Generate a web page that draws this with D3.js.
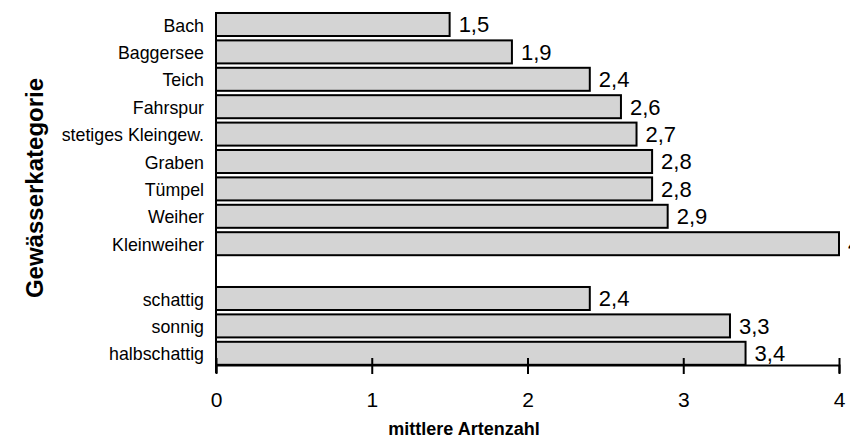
<!DOCTYPE html>
<html>
<head>
<meta charset="utf-8">
<script src="https://cdn.jsdelivr.net/npm/d3@7"></script>
<style>
    body { margin: 0; background: #fff; }
    text { font-family: "Liberation Sans", Arial, sans-serif; fill: #000; }
</style>
</head>
<body>
<script>
// Gewässertypen (oberer Block)
var waterTypes = ["Bach", "Baggersee", "Teich", "Fahrspur", "stetiges Kleingew.", "Graben", "Tümpel", "Weiher", "Kleinweiher"];
var waterValues = [1.5, 1.9, 2.4, 2.6, 2.7, 2.8, 2.8, 2.9, 4];

// Besonnung (unterer Block)
var shadeTypes = ["schattig", "sonnig", "halbschattig"];
var shadeValues = [2.4, 3.3, 3.4];

var xTicks = [0, 1, 2, 3, 4];

// build rows, with an empty spacer row between the two blocks
var rows = [];
waterTypes.forEach(function (c, i) { rows.push({ cat: c, value: waterValues[i] }); });
rows.push({ cat: "__gap", value: null });
shadeTypes.forEach(function (c, i) { rows.push({ cat: c, value: shadeValues[i] }); });

var width = 850, height = 440;
var axisY = 365;

var svg = d3.select("body").append("svg")
    .attr("width", width)
    .attr("height", height);

var x = d3.scaleLinear()
    .domain([0, 4])
    .range([216, 839]);

var y = d3.scaleBand()
    .domain(rows.map(function (d) { return d.cat; }))
    .range([10.8, 367])
    .paddingInner(0.16)
    .paddingOuter(0.08);

var bars = rows.filter(function (d) { return d.value !== null; });

// Bars
svg.append("g")
    .selectAll("rect")
    .data(bars)
    .enter()
    .append("rect")
    .attr("x", x(0))
    .attr("y", function (d) { return y(d.cat); })
    .attr("width", function (d) { return x(d.value) - x(0); })
    .attr("height", y.bandwidth())
    .style("fill", "#d4d4d4")
    .style("stroke", "#000")
    .style("stroke-width", 2);

// Value labels
svg.append("g")
    .selectAll("text")
    .data(bars)
    .enter()
    .append("text")
    .attr("x", function (d) { return x(d.value) + 9; })
    .attr("y", function (d) { return y(d.cat) + y.bandwidth() / 2; })
    .attr("dy", "0.36em")
    .style("font-size", "22px")
    .text(function (d) { return String(d.value).replace(".", ","); });

// Category labels
svg.append("g")
    .selectAll("text")
    .data(bars)
    .enter()
    .append("text")
    .attr("x", 204)
    .attr("y", function (d) { return y(d.cat) + y.bandwidth() / 2; })
    .attr("dy", "0.4em")
    .attr("text-anchor", "end")
    .style("font-size", "17.8px")
    .text(function (d) { return d.cat; });

// Y axis line
svg.append("line")
    .attr("x1", x(0)).attr("x2", x(0))
    .attr("y1", 13).attr("y2", axisY + 8)
    .style("stroke", "#000")
    .style("stroke-width", 2);

// X axis
var xAxis = svg.append("g")
    .attr("transform", "translate(0," + axisY + ")")
    .call(d3.axisBottom(x).tickValues(xTicks).tickFormat(d3.format("d")).tickSizeOuter(0).tickSize(8));

xAxis.select(".domain").style("stroke", "#000").style("stroke-width", 2);
xAxis.selectAll(".tick line")
    .attr("y1", -7)
    .attr("y2", 9)
    .style("stroke", "#000")
    .style("stroke-width", 2);
xAxis.selectAll(".tick text")
    .attr("y", 27)
    .attr("dy", "0.71em")
    .style("font-size", "21px")
    .style("font-family", "'Liberation Sans', Arial, sans-serif")
    .style("fill", "#000");

// X axis title
svg.append("text")
    .attr("x", 464)
    .attr("y", 435)
    .attr("text-anchor", "middle")
    .style("font-size", "18px")
    .style("font-weight", "bold")
    .text("mittlere Artenzahl");

// Y axis title
svg.append("text")
    .attr("transform", "translate(43,188) rotate(-90)")
    .attr("text-anchor", "middle")
    .style("font-size", "24px")
    .style("font-weight", "bold")
    .text("Gewässerkategorie");
</script>
</body>
</html>
